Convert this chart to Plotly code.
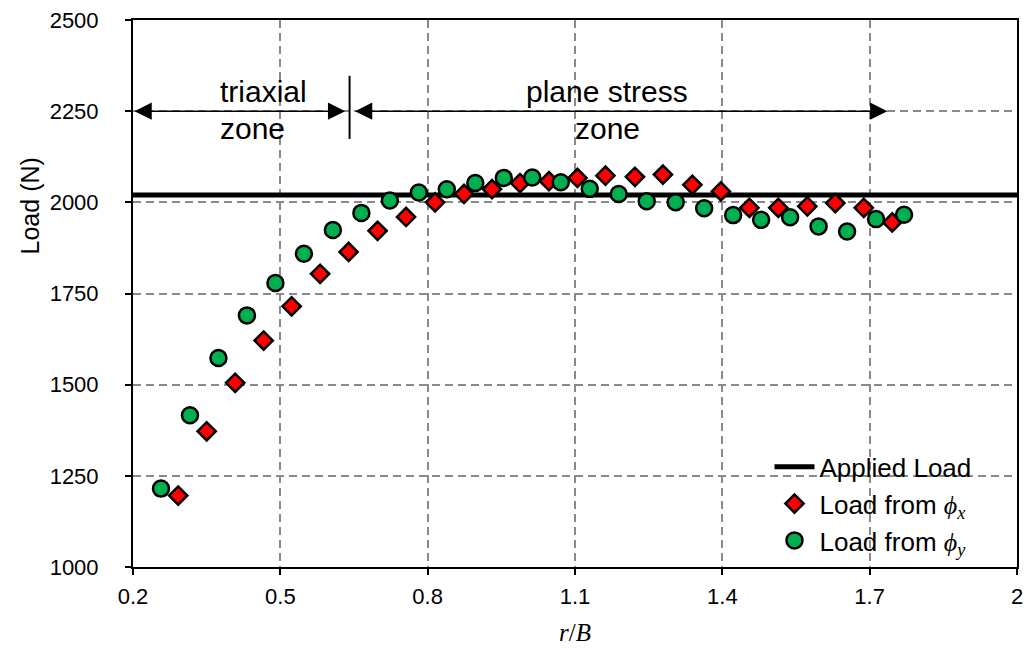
import plotly.graph_objects as go

# ---- data ----
applied_x = [0.2, 2.0]
applied_load = [2020, 2020]

phix_r = [0.292, 0.350, 0.408, 0.466, 0.523, 0.581, 0.639, 0.698, 0.756, 0.815,
          0.874, 0.931, 0.988, 1.047, 1.105, 1.162, 1.222, 1.279, 1.339, 1.397,
          1.455, 1.514, 1.573, 1.630, 1.688, 1.746]
phix_load = [1196, 1372, 1505, 1621, 1715, 1804, 1864, 1922, 1960, 2000,
             2023, 2036, 2053, 2058, 2067, 2073, 2070, 2076, 2048, 2030,
             1985, 1985, 1989, 1998, 1985, 1945]

phiy_r = [0.257, 0.316, 0.374, 0.432, 0.490, 0.548, 0.607, 0.665, 0.723, 0.782,
          0.839, 0.897, 0.955, 1.013, 1.071, 1.130, 1.189, 1.246, 1.305, 1.363,
          1.422, 1.479, 1.538, 1.596, 1.654, 1.713, 1.770]
phiy_load = [1215, 1416, 1573, 1690, 1779, 1859, 1924, 1971, 2005, 2027,
             2036, 2053, 2067, 2068, 2055, 2037, 2023, 2003, 2000, 1984,
             1965, 1952, 1959, 1934, 1920, 1954, 1966]

x_ticks = [0.2, 0.5, 0.8, 1.1, 1.4, 1.7, 2.0]
x_tick_labels = ["0.2", "0.5", "0.8", "1.1", "1.4", "1.7", "2"]
y_ticks = [1000, 1250, 1500, 1750, 2000, 2250, 2500]

SERIF = "Liberation Serif"
SANS = "Liberation Sans, Arial, sans-serif"

fig = go.Figure()
fig.add_trace(go.Scatter(
    x=applied_x, y=applied_load, mode="lines", name="Applied Load",
    line=dict(color="black", width=5), legendgroup="a"))
fig.add_trace(go.Scatter(
    x=phix_r, y=phix_load, mode="markers", legendgroup="b",
    name="Load from <span style=\"font-family:'Liberation Serif'\"><i>ϕ</i><sub><i>x</i></sub></span>",
    marker=dict(symbol="diamond", size=14, color="#FF0000",
                line=dict(color="black", width=2.5))))
fig.add_trace(go.Scatter(
    x=phiy_r, y=phiy_load, mode="markers", legendgroup="c",
    name="Load from <span style=\"font-family:'Liberation Serif'\"><i>ϕ</i><sub><i>y</i></sub></span>",
    marker=dict(symbol="circle", size=16, color="#00B050",
                line=dict(color="black", width=2.5))))

grid = dict(showgrid=True, gridcolor="#8a8a8a", gridwidth=1.5, griddash="8px,5px",
            showline=True, linecolor="black", linewidth=2, mirror=True,
            ticks="outside", ticklen=6, tickcolor="black", tickwidth=1.5,
            zeroline=False, tickfont=dict(family=SANS, size=22, color="black"))

fig.update_xaxes(range=[0.2, 2.0], tickvals=x_ticks, ticktext=x_tick_labels,
                 ticklabelstandoff=3,
                 title=dict(text="<i>r</i>/<i>B</i>",
                            font=dict(family=SERIF, size=25, color="black"),
                            standoff=15), **grid)
fig.update_yaxes(range=[1000, 2500], tickvals=y_ticks, ticklabelstandoff=22, **grid)

# y-axis title placed as in the reference (above the axis centre)
fig.add_annotation(xref="paper", yref="paper", x=-0.116, y=0.66, text="Load (N)",
                   textangle=-90, showarrow=False, xanchor="center", yanchor="middle",
                   font=dict(family=SANS, size=25, color="black"))

# zone annotations
arrow_y = 2250
arrow_style = dict(axref="x", ayref="y", xref="x", yref="y", text="", showarrow=True,
                   arrowside="end+start", arrowhead=2, startarrowhead=2,
                   arrowsize=2.3, startarrowsize=2.3, arrowwidth=1.5, arrowcolor="black")
fig.add_annotation(x=0.632, y=arrow_y, ax=0.2, ay=arrow_y, **arrow_style)
fig.add_annotation(x=1.736, y=arrow_y, ax=0.649, ay=arrow_y, **arrow_style)
fig.add_shape(type="line", x0=0.641, x1=0.641, y0=2174, y1=2347, xref="x", yref="y",
              line=dict(color="black", width=2))

zone_font = dict(family=SANS, size=30, color="black")
fig.add_annotation(x=0.466, y=2303, text="triaxial", showarrow=False, font=zone_font)
fig.add_annotation(x=0.443, y=2202, text="zone", showarrow=False, font=zone_font)
fig.add_annotation(x=1.166, y=2303, text="plane stress", showarrow=False, font=zone_font)
fig.add_annotation(x=1.166, y=2202, text="zone", showarrow=False, font=zone_font)

fig.update_layout(
    width=1031, height=652,
    margin=dict(l=133, r=8, t=20, b=85),
    plot_bgcolor="white", paper_bgcolor="white",
    font=dict(family=SANS, size=22, color="black"),
    legend=dict(x=0.72, y=0.226, xanchor="left", yanchor="top",
                bgcolor="rgba(0,0,0,0)", font=dict(family=SANS, size=26, color="black"),
                tracegroupgap=0, itemwidth=40),
    showlegend=True,
)

fig.write_html("out.html")
